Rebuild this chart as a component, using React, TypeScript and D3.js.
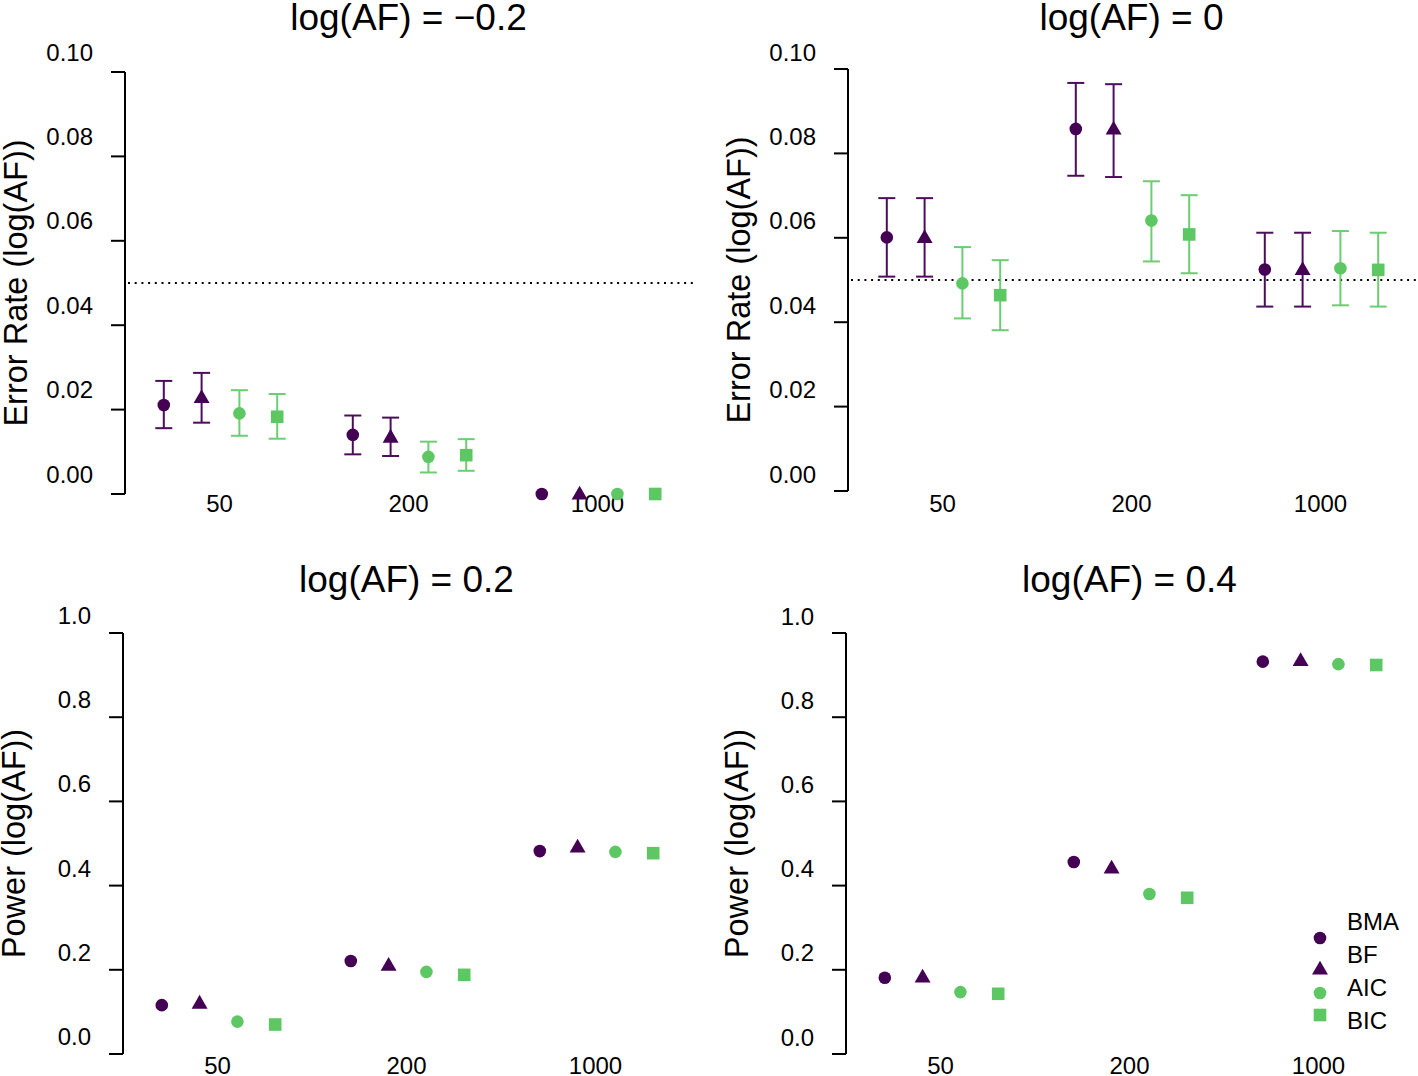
import React from "react";
import * as d3 from "d3";

const sampleSizes = ["50", "200", "1000"];
const methods = ["BMA", "BF", "AIC", "BIC"];
const methodColors = ["#440154", "#440154", "#5DC863", "#5DC863"];
const methodShapes = ["circle", "triangle", "circle", "square"];

// Error rate, log(AF) = -0.2 : [n=50, n=200, n=1000] per method
const errNeg02 = [
  [0.0211, 0.0140, 0.0],
  [0.0229, 0.0135, 0.0],
  [0.0191, 0.0088, 0.0],
  [0.0183, 0.0092, 0.0],
];
const errNeg02Lo = [
  [0.0156, 0.0094, 0.0],
  [0.0169, 0.0090, 0.0],
  [0.0138, 0.0051, 0.0],
  [0.0131, 0.0055, 0.0],
];
const errNeg02Hi = [
  [0.0268, 0.0186, 0.0],
  [0.0287, 0.0181, 0.0],
  [0.0246, 0.0124, 0.0],
  [0.0237, 0.0130, 0.0],
];

// Error rate, log(AF) = 0
const err0 = [
  [0.0601, 0.0858, 0.0525],
  [0.0601, 0.0858, 0.0525],
  [0.0492, 0.0641, 0.0528],
  [0.0464, 0.0608, 0.0524],
];
const err0Lo = [
  [0.0508, 0.0747, 0.0437],
  [0.0508, 0.0744, 0.0437],
  [0.0409, 0.0544, 0.0440],
  [0.0381, 0.0516, 0.0437],
];
const err0Hi = [
  [0.0694, 0.0967, 0.0612],
  [0.0694, 0.0964, 0.0612],
  [0.0578, 0.0734, 0.0616],
  [0.0547, 0.0701, 0.0612],
];

// Power, log(AF) = 0.2
const pow02 = [
  [0.116, 0.221, 0.482],
  [0.121, 0.211, 0.492],
  [0.077, 0.195, 0.480],
  [0.070, 0.188, 0.477],
];
// Power, log(AF) = 0.4
const pow04 = [
  [0.181, 0.456, 0.932],
  [0.183, 0.442, 0.935],
  [0.147, 0.380, 0.926],
  [0.143, 0.371, 0.924],
];

const errTicks = [0, 0.02, 0.04, 0.06, 0.08, 0.1];
const powTicks = [0, 0.2, 0.4, 0.6, 0.8, 1.0];

const FONT = "'Liberation Sans', Arial, Helvetica, sans-serif";

type PanelSpec = {
  title: string;
  titleY: number;
  xLabelY: number;
  tickLabelOffset: number;
  ylabel: string;
  axisX: number;
  yBottom: number;
  yTop: number;
  ymax: number;
  ticks: number[];
  tickFmt: (v: number) => string;
  values: number[][];
  lo?: number[][];
  hi?: number[][];
  refLine?: number;
  refRight?: number;
  legend?: boolean;
};

function Marker({ shape, x, y, color }: { shape: string; x: number; y: number; color: string }) {
  if (shape === "circle") return <circle cx={x} cy={y} r={6.3} fill={color} />;
  if (shape === "square") return <rect x={x - 6.3} y={y - 6.3} width={12.6} height={12.6} fill={color} />;
  const sym = d3.symbol().type(d3.symbolTriangle).size(110)();
  return <path d={sym || ""} transform={`translate(${x},${y + 1})`} fill={color} />;
}

function Panel(p: PanelSpec) {
  const x = d3.scaleLinear().domain([0.5, 3.5]).range([p.axisX + 1, p.axisX + 568]);
  const y = d3.scaleLinear().domain([0, p.ymax]).range([p.yBottom, p.yTop]);
  const offsets = [-0.3, -0.1, 0.1, 0.3];
  const centerX = (x(0.5) + x(3.5)) / 2;
  const capHalf = 8.5;
  return (
    <g>
      <text x={centerX - 1} y={p.titleY} fontSize={37} textAnchor="middle" fontFamily={FONT}>
        {p.title}
      </text>
      <text
        transform={`translate(${p.axisX - 98},${(p.yTop + p.yBottom) / 2}) rotate(-90)`}
        fontSize={32.5}
        textAnchor="middle"
        fontFamily={FONT}
      >
        {p.ylabel}
      </text>
      <line x1={p.axisX} x2={p.axisX} y1={y(p.ticks[0])} y2={y(p.ticks[p.ticks.length - 1])} stroke="#000" strokeWidth={2} />
      {p.ticks.map((t) => (
        <g key={t}>
          <line x1={p.axisX - 14} x2={p.axisX} y1={y(t)} y2={y(t)} stroke="#000" strokeWidth={2} />
          <text x={p.axisX - 32} y={y(t) - p.tickLabelOffset} fontSize={24} textAnchor="end" fontFamily={FONT}>
            {p.tickFmt(t)}
          </text>
        </g>
      ))}
      {sampleSizes.map((s, i) => (
        <text key={s} x={x(i + 1) - 1} y={p.xLabelY} fontSize={24} textAnchor="middle" fontFamily={FONT}>
          {s}
        </text>
      ))}
      {p.refLine !== undefined && (
        <line
          x1={p.axisX + 3}
          x2={p.refRight ?? x(3.5)}
          y1={y(p.refLine)}
          y2={y(p.refLine)}
          stroke="#000"
          strokeWidth={2}
          strokeDasharray="2 4.7"
        />
      )}
      {methods.map((m, mi) =>
        sampleSizes.map((s, si) => {
          const cx = x(si + 1 + offsets[mi]);
          const v = p.values[mi][si];
          const color = methodColors[mi];
          const lo = p.lo ? p.lo[mi][si] : v;
          const hi = p.hi ? p.hi[mi][si] : v;
          const hasBar = p.lo && hi - lo > 1e-9;
          return (
            <g key={m + s}>
              {hasBar && (
                <g stroke={color} strokeWidth={2} opacity={mi >= 2 ? 0.9 : 0.95}>
                  <line x1={cx} x2={cx} y1={y(lo)} y2={y(hi)} />
                  <line x1={cx - capHalf} x2={cx + capHalf} y1={y(lo)} y2={y(lo)} />
                  <line x1={cx - capHalf} x2={cx + capHalf} y1={y(hi)} y2={y(hi)} />
                </g>
              )}
              <Marker shape={methodShapes[mi]} x={cx} y={y(v)} color={color} />
            </g>
          );
        })
      )}
      {p.legend && (
        <g>
          {methods.map((m, mi) => (
            <g key={m}>
              <text x={1347} y={930 + mi * 33} fontSize={24} fontFamily={FONT}>
                {m}
              </text>
            </g>
          ))}
          <Marker shape={methodShapes[0]} x={1320} y={938} color={methodColors[0]} />
          <Marker shape={methodShapes[1]} x={1320} y={969} color={methodColors[1]} />
          <Marker shape={methodShapes[2]} x={1320} y={993} color={methodColors[2]} />
          <Marker shape={methodShapes[3]} x={1320} y={1015} color={methodColors[3]} />
        </g>
      )}
    </g>
  );
}

export default function App() {
  const f2 = (v: number) => v.toFixed(2);
  const f1 = (v: number) => v.toFixed(1);
  return (
    <svg
      width={1418}
      height={1076}
      style={{ position: "absolute", left: 0, top: 0, background: "#fff" }}
    >
      <rect width={1418} height={1076} fill="#fff" />
      <Panel
        title="log(AF) = −0.2"
        titleY={30}
        xLabelY={512}
        tickLabelOffset={11.5}
        ylabel="Error Rate (log(AF))"
        axisX={125}
        yBottom={494}
        yTop={72}
        ymax={0.1}
        ticks={errTicks}
        tickFmt={f2}
        values={errNeg02}
        lo={errNeg02Lo}
        hi={errNeg02Hi}
        refLine={0.05}
        refRight={695}
      />
      <Panel
        title="log(AF) = 0"
        titleY={30}
        xLabelY={512}
        tickLabelOffset={8.5}
        ylabel="Error Rate (log(AF))"
        axisX={848}
        yBottom={491}
        yTop={69}
        ymax={0.1}
        ticks={errTicks}
        tickFmt={f2}
        values={err0}
        lo={err0Lo}
        hi={err0Hi}
        refLine={0.05}
        refRight={1418}
      />
      <Panel
        title="log(AF) = 0.2"
        titleY={592}
        xLabelY={1074}
        tickLabelOffset={9}
        ylabel="Power (log(AF))"
        axisX={123}
        yBottom={1054}
        yTop={633}
        ymax={1}
        ticks={powTicks}
        tickFmt={f1}
        values={pow02}
      />
      <Panel
        title="log(AF) = 0.4"
        titleY={592}
        xLabelY={1074}
        tickLabelOffset={8.5}
        ylabel="Power (log(AF))"
        axisX={846}
        yBottom={1054}
        yTop={633}
        ymax={1}
        ticks={powTicks}
        tickFmt={f1}
        values={pow04}
        legend
      />
    </svg>
  );
}
